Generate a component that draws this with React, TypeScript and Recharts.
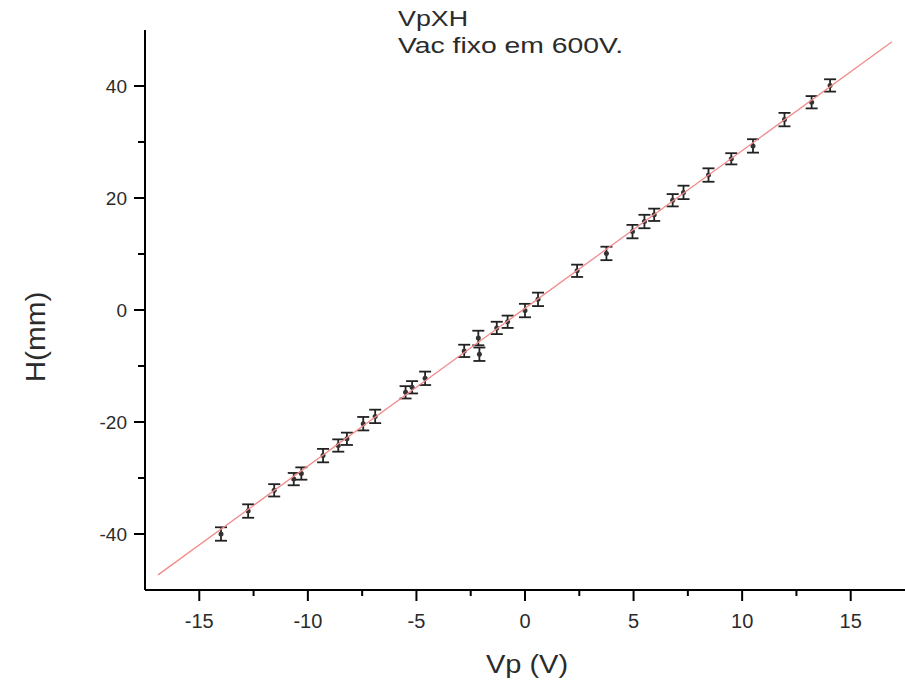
import { ScatterChart, Scatter, XAxis, YAxis, ErrorBar } from 'recharts';

const vp = [-14.0, -12.75, -11.55, -10.65, -10.3, -9.3, -8.6, -8.2, -7.45, -6.9, -5.5, -5.2, -4.6, -2.8, -2.1, -2.15, -1.3, -0.8, 0.0, 0.6, 2.4, 3.75, 4.95, 5.5, 5.95, 6.8, 7.3, 8.45, 9.5, 10.5, 11.95, 13.2, 14.05];
const h = [-40.0, -35.9, -32.2, -30.2, -29.2, -26.0, -24.2, -23.0, -20.3, -19.0, -14.7, -13.8, -12.2, -7.3, -7.9, -5.0, -3.2, -2.1, -0.1, 1.9, 7.0, 10.1, 14.0, 15.8, 17.0, 19.6, 21.0, 24.1, 27.0, 29.3, 34.0, 37.1, 40.1];
const hErr = [1.2, 1.2, 1.1, 1.1, 1.1, 1.2, 1.1, 1.1, 1.2, 1.2, 1.1, 1.1, 1.2, 1.1, 1.2, 1.3, 1.1, 1.1, 1.2, 1.2, 1.1, 1.2, 1.2, 1.2, 1.1, 1.1, 1.2, 1.2, 1.0, 1.2, 1.2, 1.1, 1.1];

// linear fit line end points
const fitVp = [-16.9, 16.9];
const fitH = [-47.3, 47.9];

const xTicks = [-15, -12.5, -10, -7.5, -5, -2.5, 0, 2.5, 5, 7.5, 10, 12.5, 15];
const yTicks = [-40, -30, -20, -10, 0, 10, 20, 30, 40];

const points = vp.map((v, i) => ({ vp: v, h: h[i], err: hErr[i] }));
const fit = fitVp.map((v, i) => ({ vp: v, h: fitH[i] }));

const font = '"Liberation Sans", Arial, sans-serif';

const XTick = (props: any) => {
  const { x, y, payload } = props;
  const major = payload.value % 5 === 0;
  return (
    <g>
      <line x1={x} x2={x} y1={y} y2={y + (major ? 11 : 6)} stroke="#000" strokeWidth={2} />
      {major && (
        <text x={x} y={y + 38} textAnchor="middle" fontSize={20} fill="#2b2b2b" fontFamily={font}>
          {payload.value}
        </text>
      )}
    </g>
  );
};

const YTick = (props: any) => {
  const { x, y, payload } = props;
  const major = payload.value % 20 === 0;
  return (
    <g>
      <line x1={x} x2={x - (major ? 11 : 7)} y1={y} y2={y} stroke="#000" strokeWidth={2} />
      {major && (
        <text x={x - 18} y={y + 7} textAnchor="end" fontSize={19} fill="#2b2b2b" fontFamily={font}>
          {payload.value}
        </text>
      )}
    </g>
  );
};

const noDot = () => <g />;

export default function App() {
  return (
    <div style={{ position: 'relative', width: 905, height: 680, background: '#fff', fontFamily: font }}>
      <style>{'body{margin:0}'}</style>
      <ScatterChart width={905} height={680} margin={{ top: 30, right: 0, bottom: 0, left: 85 }}>
        <XAxis
          type="number"
          dataKey="vp"
          domain={[-17.5, 17.5]}
          ticks={xTicks}
          interval={0}
          height={90}
          tickSize={0}
          tickMargin={0}
          tickLine={false}
          tick={<XTick />}
          axisLine={{ stroke: '#000', strokeWidth: 2 }}
        />
        <YAxis
          type="number"
          dataKey="h"
          domain={[-50, 50]}
          ticks={yTicks}
          interval={0}
          width={60}
          tickSize={0}
          tickMargin={0}
          tickLine={false}
          tick={<YTick />}
          axisLine={{ stroke: '#000', strokeWidth: 2 }}
        />
        <Scatter data={points} fill="#333" isAnimationActive={false} shape={(p: any) => <circle cx={p.cx} cy={p.cy} r={2.5} fill="#333" />}>
          <ErrorBar dataKey="err" direction="y" width={6} stroke="#222" strokeWidth={1.8} />
        </Scatter>
        <Scatter data={fit} line={{ stroke: '#f28b8b', strokeWidth: 1.3 }} shape={noDot} isAnimationActive={false} />
      </ScatterChart>
      <svg width={905} height={680} style={{ position: 'absolute', left: 0, top: 0, pointerEvents: 'none' }}>
        <g fontFamily={font} fill="#2b2b2b">
          <text transform="translate(398,26) scale(1.22,1)" fontSize={22}>VpXH</text>
          <text transform="translate(398,53) scale(1.26,1)" fontSize={22.5}>Vac fixo em 600V.</text>
          <text transform="translate(527,673) scale(1.16,1)" fontSize={25} textAnchor="middle">Vp (V)</text>
          <text transform="translate(45,337) rotate(-90) scale(1.1,1)" fontSize={27} textAnchor="middle">H(mm)</text>
        </g>
      </svg>
    </div>
  );
}
